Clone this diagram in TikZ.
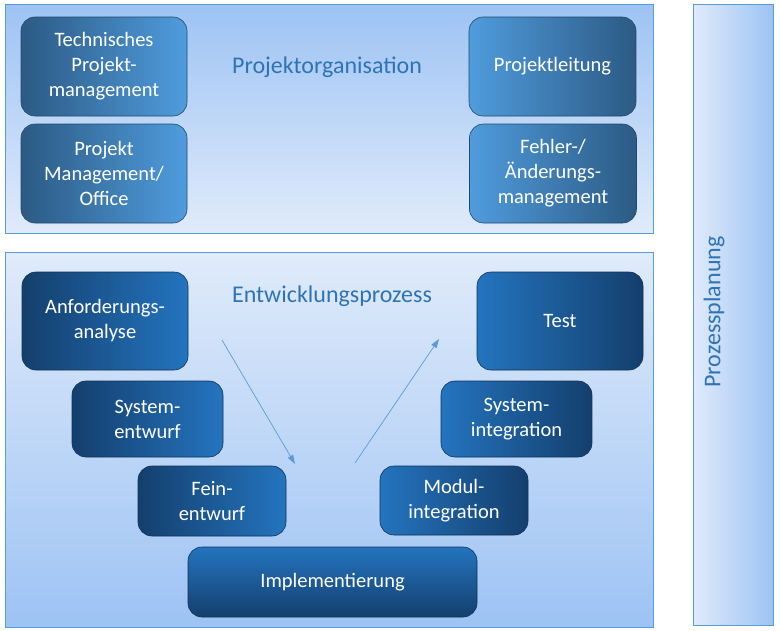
\documentclass[tikz,border=0pt]{standalone}
\usepackage{fontspec}
\setmainfont{Carlito}
\usetikzlibrary{arrows.meta}
\definecolor{panelDark}{HTML}{9DC3F4}
\definecolor{panelLight}{HTML}{E0EBFA}
\definecolor{panelBorder}{HTML}{5B9BD5}
\definecolor{topDark}{HTML}{2C5A84}
\definecolor{topLight}{HTML}{4F9CDD}
\definecolor{botDark}{HTML}{143F6D}
\definecolor{botLight}{HTML}{2474BF}
\definecolor{titleBlue}{HTML}{2E74B5}
\definecolor{arrowBlue}{HTML}{5B9BD5}
\tikzset{
  panel/.style={draw=panelBorder, line width=0.8pt, inner sep=0pt},
  tbox/.style={draw=topDark!80!black, line width=0.6pt, rounded corners=14pt, inner sep=0pt,
     align=center, text=white, font=\fontsize{20.5}{25}\selectfont},
  bbox/.style={draw=botDark!80!black, line width=0.6pt, rounded corners=14pt, inner sep=0pt,
     align=center, text=white, font=\fontsize{20.5}{25}\selectfont},
  title/.style={text=titleBlue, font=\fontsize{24}{28}\selectfont, inner sep=0pt},
  flow/.style={draw=arrowBlue, line width=0.7pt, -{Triangle[length=9pt,width=6pt]}}
}
\begin{document}
\begin{tikzpicture}[x=1pt,y=-1pt]
\useasboundingbox (0,0) rectangle (780,630);
% panels
\node[panel, minimum width=648pt, minimum height=229pt, top color=panelDark, bottom color=panelLight] (orgpanel) at (329,118.5) {};
\node[panel, minimum width=648pt, minimum height=375pt, top color=panelLight, bottom color=panelDark] (devpanel) at (329,439.5) {};
\node[panel, minimum width=80pt, minimum height=621pt, left color=panelLight, right color=panelDark] (planbar) at (733,314.5) {};
% titles
\node[title] (orgtitle) at (327,67) {Projektorganisation};
\node[title] (devtitle) at (332,296) {Entwicklungsprozess};
\node[title, rotate=90] (plantitle) at (714,312) {Prozessplanung};
% top boxes
\node[tbox, minimum width=166pt, minimum height=99pt, left color=topDark, right color=topLight] (tpm) at (104,66.5) {Technisches\\Projekt-\\management};
\node[tbox, minimum width=166pt, minimum height=99pt, left color=topDark, right color=topLight] (pmo) at (104,173.5) {Projekt\\Management/\\Office};
\node[tbox, minimum width=167pt, minimum height=99pt, left color=topLight, right color=topDark] (pl) at (552.5,66.5) {Projektleitung};
\node[tbox, minimum width=167pt, minimum height=99pt, left color=topLight, right color=topDark] (fam) at (553,173.5) {Fehler-/\\Änderungs-\\management};
% V-model boxes
\node[bbox, minimum width=166pt, minimum height=98pt, left color=botDark, right color=botLight] (anf) at (105,321) {Anforderungs-\\analyse};
\node[bbox, minimum width=151pt, minimum height=76pt, left color=botDark, right color=botLight] (sye) at (147.5,419) {System-\\entwurf};
\node[bbox, minimum width=148pt, minimum height=70pt, left color=botDark, right color=botLight] (fe) at (212,501) {Fein-\\entwurf};
\node[bbox, minimum width=289pt, minimum height=70pt, top color=botLight, bottom color=botDark] (impl) at (332.5,582) {Implementierung};
\node[bbox, minimum width=148pt, minimum height=69pt, left color=botLight, right color=botDark] (mod) at (454,500.5) {Modul-\\integration};
\node[bbox, minimum width=151pt, minimum height=76pt, left color=botLight, right color=botDark] (syi) at (516.5,419) {System-\\integration};
\node[bbox, minimum width=166pt, minimum height=98pt, left color=botLight, right color=botDark] (test) at (560,321) {Test};
% arrows
\coordinate (dstart) at (222,340);
\coordinate (dend) at (295,464);
\coordinate (ustart) at (355,463);
\coordinate (uend) at (439,339);
\draw[flow] (dstart) -- (dend);
\draw[flow] (ustart) -- (uend);
\end{tikzpicture}
\end{document}
